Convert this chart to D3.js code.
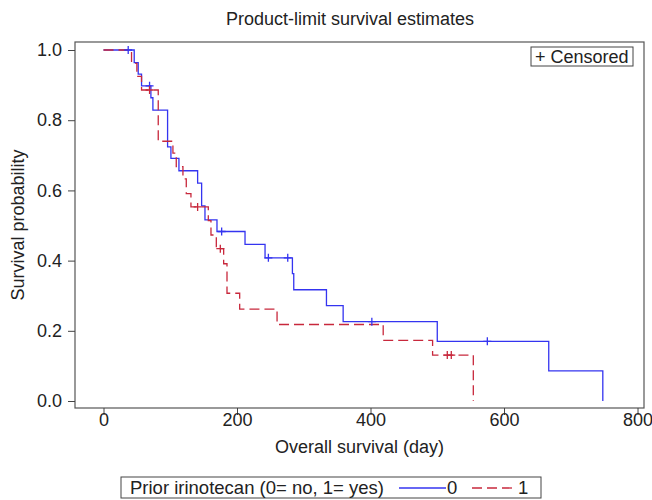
<!DOCTYPE html>
<html>
<head>
<meta charset="utf-8">
<script src="https://cdn.jsdelivr.net/npm/d3@7"></script>
<style>
  body { margin: 0; background: #fff; }
  text { font-family: "Liberation Sans", Arial, sans-serif; fill: #222; }
</style>
</head>
<body>
<div id="chart"></div>
<script>
// group 0 (no prior irinotecan)
const time0 = [0, 46, 52, 57, 71, 74, 96, 101, 113, 141, 147, 152, 170, 212, 242, 283, 285, 334, 359, 500, 667, 748]
const surv0 = [1.0, 0.964, 0.931, 0.898, 0.864, 0.829, 0.724, 0.691, 0.656, 0.621, 0.556, 0.516, 0.483, 0.446, 0.408, 0.363, 0.317, 0.272, 0.226, 0.170, 0.086, 0]
const cens0 = [37, 69, 177, 247, 276, 402, 575]

// group 1 (prior irinotecan)
const time1 = [0, 42, 50, 57, 82, 104, 109, 119, 124, 131, 157, 161, 169, 180, 185, 204, 260, 419, 493, 554]
const surv1 = [1.0, 0.962, 0.925, 0.886, 0.740, 0.706, 0.668, 0.633, 0.591, 0.553, 0.514, 0.473, 0.434, 0.391, 0.307, 0.262, 0.218, 0.173, 0.131, 0]
const cens1 = [69, 141, 175, 515, 521]

const xTicks = [0, 200, 400, 600, 800]
const yTicks = [0, 0.2, 0.4, 0.6, 0.8, 1.0]

const groupNames = ["0", "1"]
const title = "Product-limit survival estimates"

const width = 652
const height = 500
const frame = { left: 75, right: 644, top: 42, bottom: 408 }

const blue = "#3434f0"
const red = "#c8283c"
const fontSize = 18

const x = d3.scaleLinear()
    .domain([-42.7, 809.7])
    .range([frame.left, frame.right])

const y = d3.scaleLinear()
    .domain([-0.0199, 1.0228])
    .range([frame.bottom, frame.top])

const svg = d3.select("#chart")
    .append("svg")
    .attr("width", width)
    .attr("height", height)

// survival at time t (right-continuous step)
const survAt = (times, survs, t) => {
    let s = survs[0]
    for (let i = 0; i < times.length; i++) {
        if (times[i] <= t) s = survs[i]
    }
    return s
}

const stepLine = d3.line()
    .x(d => x(d[0]))
    .y(d => y(d[1]))
    .curve(d3.curveStepAfter)

const groups = [
    { times: time0, survs: surv0, cens: cens0, color: blue, dash: null },
    { times: time1, survs: surv1, cens: cens1, color: red, dash: "10,5" },
]

// frame
svg.append("rect")
    .attr("x", frame.left)
    .attr("y", frame.top)
    .attr("width", frame.right - frame.left)
    .attr("height", frame.bottom - frame.top)
    .attr("fill", "none")
    .attr("stroke", "#555")
    .attr("stroke-width", 1.2)

// axes
const xAxis = svg.append("g")
    .attr("transform", `translate(0,${frame.bottom})`)
    .call(d3.axisBottom(x).tickValues(xTicks).tickFormat(d3.format("d")).tickSize(7).tickPadding(-2))
xAxis.select(".domain").remove()

const yAxis = svg.append("g")
    .attr("transform", `translate(${frame.left},0)`)
    .call(d3.axisLeft(y).tickValues(yTicks).tickFormat(d3.format(".1f")).tickSize(7).tickPadding(6))
yAxis.select(".domain").remove()

svg.selectAll(".tick line").attr("stroke", "#444")
svg.selectAll(".tick text")
    .attr("font-size", fontSize)
    .attr("font-family", "Liberation Sans, Arial, sans-serif")
    .attr("fill", "#222")

// curves
svg.append("g")
    .selectAll("path")
    .data(groups)
    .join("path")
    .attr("fill", "none")
    .attr("stroke", d => d.color)
    .attr("stroke-width", 1.3)
    .attr("stroke-dasharray", d => d.dash)
    .attr("d", d => stepLine(d.times.map((t, i) => [t, d.survs[i]])))

// censored marks
groups.forEach(g => {
    svg.append("g")
        .attr("stroke", g.color)
        .attr("stroke-width", 1.3)
        .selectAll("path")
        .data(g.cens)
        .join("path")
        .attr("d", t => {
            const cx = x(t)
            const cy = y(survAt(g.times, g.survs, t))
            return `M${cx - 4},${cy}H${cx + 4}M${cx},${cy - 4}V${cy + 4}`
        })
})

// censored legend box
svg.append("rect")
    .attr("x", 531)
    .attr("y", 47)
    .attr("width", 102)
    .attr("height", 19)
    .attr("fill", "none")
    .attr("stroke", "#444")

svg.append("text")
    .attr("x", 535)
    .attr("y", 63)
    .attr("font-size", fontSize)
    .text("+ Censored")

// title and axis labels
svg.append("text")
    .attr("x", 350)
    .attr("y", 25)
    .attr("text-anchor", "middle")
    .attr("font-size", fontSize)
    .text(title)

svg.append("text")
    .attr("x", (frame.left + frame.right) / 2)
    .attr("y", 453)
    .attr("text-anchor", "middle")
    .attr("font-size", fontSize)
    .text("Overall survival (day)")

svg.append("text")
    .attr("transform", `translate(24,${(frame.top + frame.bottom) / 2}) rotate(-90)`)
    .attr("text-anchor", "middle")
    .attr("font-size", fontSize)
    .text("Survival probability")

// group legend
const legend = svg.append("g")

legend.append("rect")
    .attr("x", 121)
    .attr("y", 477)
    .attr("width", 420)
    .attr("height", 21)
    .attr("fill", "none")
    .attr("stroke", "#444")

legend.append("text")
    .attr("x", 130)
    .attr("y", 494)
    .attr("font-size", 18.5)
    .text("Prior irinotecan (0= no, 1= yes)")

const legendItems = [
    { x1: 399, x2: 446, color: blue, dash: null, name: groupNames[0] },
    { x1: 472, x2: 517, color: red, dash: "10,5", name: groupNames[1] },
]

legend.selectAll("line")
    .data(legendItems)
    .join("line")
    .attr("x1", d => d.x1)
    .attr("x2", d => d.x2)
    .attr("y1", 488)
    .attr("y2", 488)
    .attr("stroke", d => d.color)
    .attr("stroke-width", 1.3)
    .attr("stroke-dasharray", d => d.dash)

legend.selectAll("text.item")
    .data(legendItems)
    .join("text")
    .attr("class", "item")
    .attr("x", d => d.x2 + 1)
    .attr("y", 494)
    .attr("font-size", 18.5)
    .text(d => d.name)
</script>
</body>
</html>
